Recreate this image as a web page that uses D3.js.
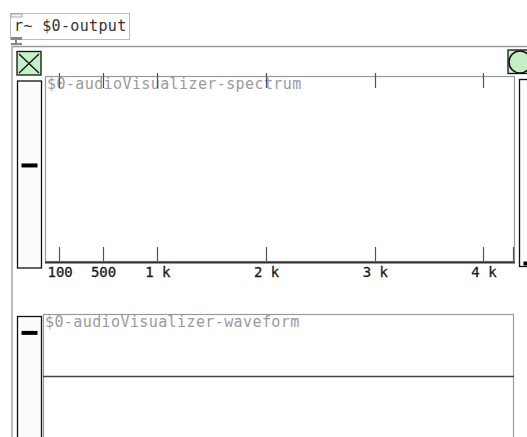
<!DOCTYPE html>
<html>
<head>
<meta charset="utf-8">
<script src="https://cdn.jsdelivr.net/npm/d3@7"></script>
<style>
html,body{margin:0;padding:0;background:#fff;overflow:hidden;}
svg{display:block;}
text{font-family:"DejaVu Sans Mono",monospace;}
</style>
</head>
<body>
<svg id="c" width="527" height="437"></svg>
<script>
// ---- data ----
const receiverLabel = "r~ $0-output";
const spectrumName = "$0-audioVisualizer-spectrum";
const waveformName = "$0-audioVisualizer-waveform";
const freqTicks = [100, 500, 1000, 2000, 3000, 4000];
const freqTickLabels = ["100", "500", "1 k", "2 k", "3 k", "4 k"];
const freqEdgeTick = [4275];
const spectrumValues = [0,0,0,0,0,0,0,0,0,0,0,0,0,0,0,0];
const waveformValues = [0,0,0,0,0,0,0,0,0,0,0,0,0,0,0,0];
const levelSlider = [0.55];
const rightSlider = [0];
const waveSlider = [0.9];

const svg = d3.select("#c");

// receiver object box
svg.append("rect").attr("x",10.5).attr("y",13.5).attr("width",119).attr("height",26)
  .attr("fill","#fff").attr("stroke","#bbb");
svg.append("rect").attr("x",11).attr("y",14).attr("width",11).attr("height",3)
  .attr("fill","#f4f4f4").attr("stroke","#999").attr("stroke-width",0.8);
svg.append("text").attr("x",14).attr("y",31).attr("font-size",15).attr("letter-spacing",0.35).attr("fill","#333")
  .text(receiverLabel);
svg.append("rect").attr("x",11).attr("y",37).attr("width",11).attr("height",3).attr("fill","#888");
svg.append("line").attr("x1",16).attr("x2",16).attr("y1",40).attr("y2",45).attr("stroke","#888").attr("stroke-width",2);
svg.append("rect").attr("x",11).attr("y",43).attr("width",11).attr("height",2).attr("fill","#888");

// graph-on-parent frame
svg.append("path").attr("d","M12,437V46.5H527").attr("fill","none").attr("stroke","#999").attr("stroke-width",1.3);

// toggle
const tg = svg.append("g");
tg.append("rect").attr("x",17).attr("y",51.5).attr("width",24).attr("height",23.5)
  .attr("fill","#c4f0c4").attr("stroke","#111").attr("stroke-width",1.3);
tg.append("path").attr("d","M19,54L39,73M39,54L19,73").attr("stroke","#111").attr("stroke-width",1.3);

// vertical sliders
function vslider(x,y,w,h,val){
  const s = d3.scaleLinear().domain([0,1]).range([y+h-3,y+3]);
  svg.append("rect").attr("x",x).attr("y",y).attr("width",w).attr("height",h)
    .attr("fill","#fcfcfc").attr("stroke","#111").attr("stroke-width",1.3);
  svg.append("rect").attr("x",x+4).attr("y",s(val)-2).attr("width",w-8).attr("height",4).attr("fill","#000");
}
vslider(17.5,81,24,187,levelSlider[0]);
vslider(519.5,79.5,20,187,rightSlider[0]);

// bang
svg.append("rect").attr("x",508).attr("y",50).attr("width",24).attr("height",23.5)
  .attr("fill","#c4f0c4").attr("stroke","#111").attr("stroke-width",1.3);
svg.append("circle").attr("cx",520).attr("cy",62).attr("r",11).attr("fill","#c4f0c4").attr("stroke","#111").attr("stroke-width",1.5);

// spectrum graph
const gx0 = 45, gx1 = 514, gy0 = 76, gy1 = 261;
const x = d3.scaleLinear().domain([0,4000]).range([48.6,483.3]);
const yS = d3.scaleLinear().domain([0,1]).range([gy1,gy0]);
svg.append("rect").attr("x",gx0+0.5).attr("y",gy0+0.5).attr("width",gx1-gx0).attr("height",gy1-gy0)
  .attr("fill","#fff").attr("stroke","#999").attr("stroke-width",1.2);
svg.append("text").attr("x",47).attr("y",89).attr("font-size",15).attr("letter-spacing",0.4).attr("fill","#9a9aa2").text(spectrumName);
const allTicks = freqTicks.concat(freqEdgeTick);
// bottom ticks
svg.append("g").selectAll("line").data(allTicks).join("line")
  .attr("x1",d=>Math.round(x(d))+0.5).attr("x2",d=>Math.round(x(d))+0.5)
  .attr("y1",247).attr("y2",261).attr("stroke","#456").attr("stroke-width",1.2);
// top ticks
svg.append("g").selectAll("line").data(freqTicks).join("line")
  .attr("x1",d=>Math.round(x(d))+0.5).attr("x2",d=>Math.round(x(d))+0.5)
  .attr("y1",73).attr("y2",88).attr("stroke","#456").attr("stroke-width",1.2);
// labels
svg.append("g").selectAll("text").data(freqTicks).join("text")
  .attr("x",(d,i)=>x(d)-12).attr("y",277).attr("font-size",14).attr("fill","#1a1a1a")
  .attr("stroke","#1a1a1a").attr("stroke-width",0.3)
  .text((d,i)=>freqTickLabels[i]);
// spectrum array line
const xi = d3.scaleLinear().domain([0,spectrumValues.length-1]).range([gx0,gx1+1]);
svg.append("path").datum(spectrumValues)
  .attr("d",d3.line().x((d,i)=>xi(i)).y(d=>yS(d)+1.5))
  .attr("fill","none").attr("stroke","#333").attr("stroke-width",2);

// waveform graph
const wx0 = 43, wx1 = 513, wy0 = 314, wy1 = 440;
svg.append("rect").attr("x",wx0+0.5).attr("y",wy0+0.5).attr("width",wx1-wx0).attr("height",wy1-wy0)
  .attr("fill","#fff").attr("stroke","#999").attr("stroke-width",1.2);
svg.append("text").attr("x",45).attr("y",327).attr("font-size",15).attr("letter-spacing",0.4).attr("fill","#9a9aa2").text(waveformName);
const yW = d3.scaleLinear().domain([-1,1]).range([440,314]);
const xw = d3.scaleLinear().domain([0,waveformValues.length-1]).range([wx0,wx1+1]);
svg.append("path").datum(waveformValues)
  .attr("d",d3.line().x((d,i)=>xw(i)).y(d=>Math.round(yW(d))-0.5))
  .attr("fill","none").attr("stroke","#444").attr("stroke-width",1.5);

// waveform slider
vslider(17.5,316.5,24,140,waveSlider[0]);
</script>
</body>
</html>
